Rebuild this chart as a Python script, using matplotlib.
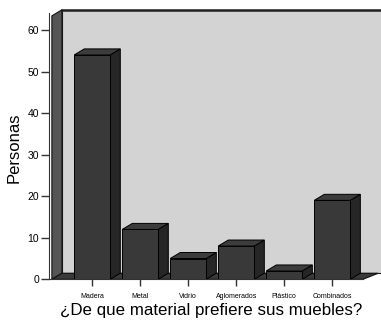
import matplotlib.pyplot as plt
from matplotlib.patches import Polygon

plt.rcParams['font.family'] = ['Liberation Sans', 'DejaVu Sans']

materiales = ['Madera', 'Metal', 'Vidrio', 'Aglomerados', 'Plástico', 'Combinados']
personas = [54, 12, 5, 8, 2, 19]
yticks = [0, 10, 20, 30, 40, 50, 60]

# pseudo-3D depth offsets in data units
DX, DY = 0.21, 1.45
BAR_W = 0.75
X0, X1 = -0.9, 5.64
Y_TOP = 63.4

fig = plt.figure(figsize=(3.81, 3.26), dpi=100)
ax = fig.add_axes([0.1286, 0.1433, 0.8241, 0.8157])
ax.set_xlim(X0, X1)
ax.set_ylim(0, 64)

wall_l = X0 + 0.06

# back wall
ax.add_patch(Polygon([(wall_l + DX, DY), (X1 + 1.0, DY), (X1 + 1.0, Y_TOP + DY),
                      (wall_l + DX, Y_TOP + DY)], closed=True, facecolor='#d3d3d3',
                     edgecolor='#1a1a1a', lw=0.8, clip_on=False, zorder=1))
ax.plot([wall_l + DX, X1 + 1.0], [Y_TOP + DY, Y_TOP + DY], color='#222222', lw=1.8,
        clip_on=False, zorder=1.1)

# left side wall
ax.add_patch(Polygon([(wall_l, 0), (wall_l + DX, DY), (wall_l + DX, Y_TOP + DY),
                      (wall_l, Y_TOP)], closed=True, facecolor='#555555',
                     edgecolor='#111111', lw=0.8, clip_on=False, zorder=2))

# floor
ax.add_patch(Polygon([(wall_l, 0), (X1, 0), (X1 + DX * 1.5, DY), (wall_l + DX, DY)],
                     closed=True, facecolor='#3a3a3a', edgecolor='#111111', lw=0.8,
                     clip_on=False, zorder=2))

# bars: side and top faces first, then the front faces
for i, v in enumerate(personas):
    xl, xr = i - BAR_W / 2, i + BAR_W / 2
    ax.add_patch(Polygon([(xr, 0), (xr + DX, DY), (xr + DX, v + DY), (xr, v)],
                         closed=True, facecolor='#262626', edgecolor='#000000',
                         lw=0.7, zorder=3 + i))
    ax.add_patch(Polygon([(xl, v), (xr, v), (xr + DX, v + DY), (xl + DX, v + DY)],
                         closed=True, facecolor='#3c3c3c', edgecolor='#000000',
                         lw=0.7, zorder=3 + i))
    ax.bar(i, v, width=BAR_W, color='#393939', edgecolor='#000000', lw=0.7,
           zorder=3.5 + i)

ax.set_xticks(range(len(materiales)))
ax.set_xticklabels(materiales, fontsize=5)
ax.set_yticks(yticks)
ax.tick_params(axis='y', labelsize=7.5, length=6, width=1, color='#333333', pad=1)
ax.tick_params(axis='x', length=5, width=1, color='#333333', pad=5)

for side in ['top', 'right']:
    ax.spines[side].set_visible(False)
ax.spines['left'].set_color('#333333')
ax.spines['bottom'].set_color('#333333')
ax.spines['left'].set_zorder(0)
ax.patch.set_visible(False)

fig.text(14 / 381, 0.546, 'Personas', rotation=90, fontsize=12,
         ha='center', va='center')
fig.text(211.5 / 381, 16 / 326, '¿De que material prefiere sus muebles?',
         fontsize=12.2, ha='center', va='center')

fig.savefig('out.png', dpi=100, facecolor='white')
